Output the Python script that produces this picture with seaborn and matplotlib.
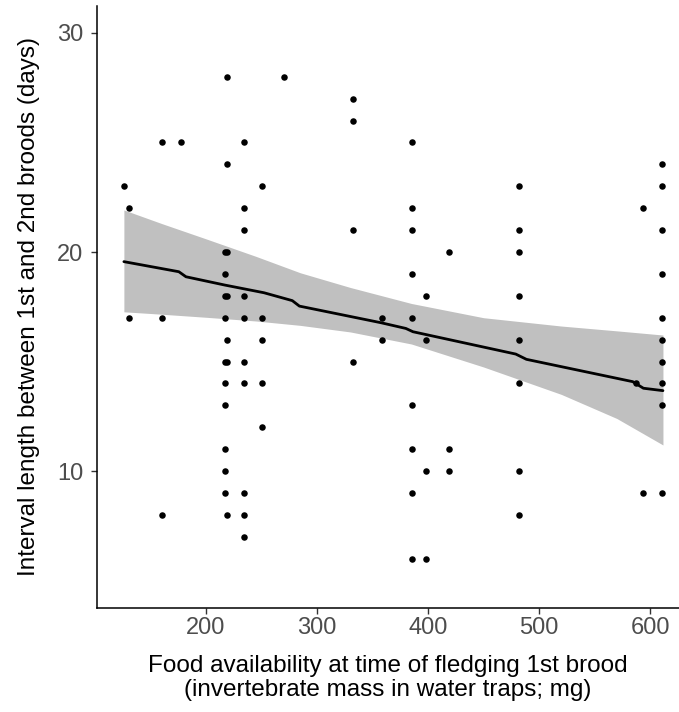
import numpy as np
import pandas as pd
import matplotlib
matplotlib.use("Agg")
import matplotlib.pyplot as plt
import seaborn as sns

# Food availability (invertebrate mass, mg) for each nest and the interval (days)
food_mg = [
    126.1,
    130.6, 130.6,
    160.4, 160.4, 160.4,
    177.2,
    217.4, 217.4, 217.4, 217.4, 217.4, 217.4, 217.4, 217.4, 217.4, 217.4,
    218.9, 218.9, 218.9, 218.9, 218.9, 218.9, 218.9,
    234.2, 234.2, 234.2, 234.2, 234.2, 234.2, 234.2, 234.2, 234.2, 234.2,
    250.7, 250.7, 250.7, 250.7, 250.7,
    270.3,
    332.2, 332.2, 332.2, 332.2,
    358.8, 358.8,
    385.6, 385.6, 385.6, 385.6, 385.6, 385.6, 385.6, 385.6, 385.6,
    397.9, 397.9, 397.9, 397.9,
    418.9, 418.9, 418.9,
    482.0, 482.0, 482.0, 482.0, 482.0, 482.0, 482.0, 482.0,
    587.1,
    594.0, 594.0,
    610.8, 610.8, 610.8, 610.8, 610.8, 610.8, 610.8, 610.8, 610.8, 610.8,
]
interval_days = [
    23,
    22, 17,
    25, 17, 8,
    25,
    20, 19, 18, 17, 15, 14, 13, 11, 10, 9,
    28, 24, 20, 18, 16, 15, 8,
    25, 22, 21, 18, 17, 15, 14, 9, 8, 7,
    23, 17, 16, 14, 12,
    28,
    27, 26, 21, 15,
    17, 16,
    25, 22, 21, 19, 17, 13, 11, 9, 6,
    18, 16, 10, 6,
    20, 11, 10,
    23, 21, 20, 18, 16, 14, 10, 8,
    14,
    22, 9,
    24, 23, 21, 19, 17, 16, 15, 14, 13, 9,
]

# Model prediction for the interval and its 95% confidence band
fit_food = [126.0, 175.5, 181.9, 217.0, 252.2, 277.7, 284.1, 357.7, 380.0,
            386.4, 479.0, 488.6, 584.4, 594.0, 611.6]
fit_days = [19.56, 19.10, 18.87, 18.49, 18.14, 17.78, 17.53, 16.77, 16.51,
            16.36, 15.34, 15.10, 14.08, 13.78, 13.67]
band_food = [126.0, 160.0, 200.0, 245.0, 285.0, 330.0, 385.0, 450.0, 520.0,
             570.0, 611.6]
band_low = [17.27, 17.16, 17.02, 16.85, 16.65, 16.35, 15.80, 14.75, 13.50,
            12.40, 11.19]
band_high = [21.92, 21.30, 20.60, 19.80, 19.05, 18.38, 17.65, 17.00, 16.62,
             16.40, 16.21]

x_ticks = [200, 300, 400, 500, 600]
y_ticks = [10, 20, 30]

points = pd.DataFrame({"food": food_mg, "interval": interval_days})
fit = pd.DataFrame({"food": fit_food, "interval": fit_days})

sns.set_theme(style="white")
plt.rcParams["font.family"] = ["Liberation Sans", "DejaVu Sans"]

fig = plt.figure(figsize=(6.79, 7.12), dpi=100)
ax = fig.add_axes([0.1429, 0.1465, 0.857, 0.845])

ax.fill_between(band_food, band_low, band_high, color="#c0c0c0", lw=0, zorder=1)
sns.scatterplot(data=points, x="food", y="interval", ax=ax, s=22, color="black",
                linewidth=0, zorder=3)
sns.lineplot(data=fit, x="food", y="interval", ax=ax, color="black", lw=2.0,
             sort=True, zorder=4)

ax.set_xlim(101.8, 626)
ax.set_ylim(3.76, 31.23)
ax.set_xticks(x_ticks)
ax.set_yticks(y_ticks)

for side in ("top", "right"):
    ax.spines[side].set_visible(False)
for side in ("left", "bottom"):
    ax.spines[side].set_color("black")
    ax.spines[side].set_linewidth(1.1)

ax.tick_params(axis="both", which="major", length=4, width=1.0, color="#333333",
               labelsize=17, labelcolor="#4d4d4d", left=True, bottom=True)
ax.tick_params(axis="x", pad=3)
ax.tick_params(axis="y", pad=6)

ax.set_xlabel("Food availability at time of fledging 1st brood\n"
              "(invertebrate mass in water traps; mg)",
              fontsize=17.5, color="black", labelpad=11, linespacing=1.12)
ax.set_ylabel("Interval length between 1st and 2nd broods (days)",
              fontsize=17.5, color="black", labelpad=12)

fig.savefig("out.png", dpi=100)
